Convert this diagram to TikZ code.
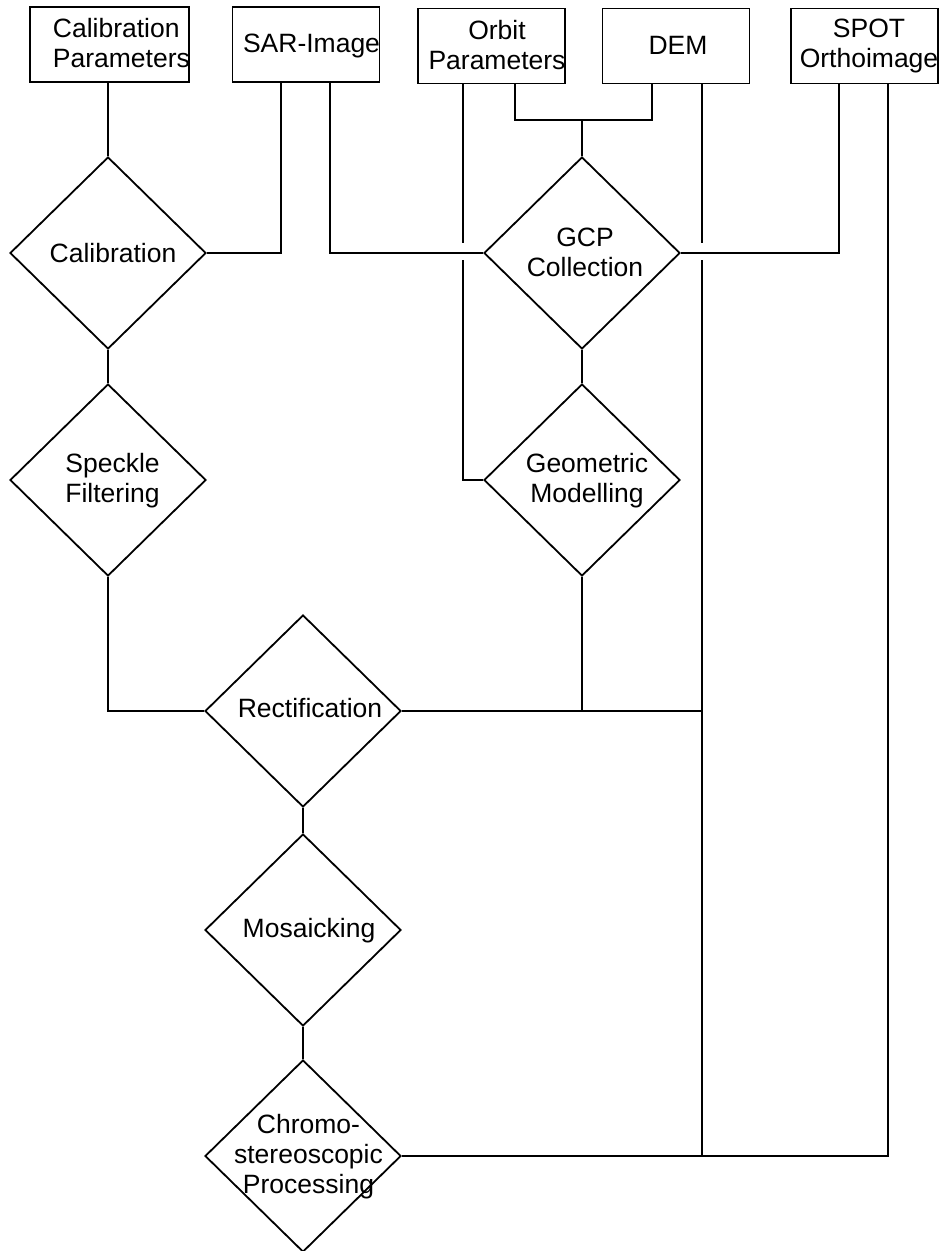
\documentclass[tikz,border=0pt]{standalone}
\usepackage{fontspec}
\setmainfont{Liberation Sans}
\usetikzlibrary{shapes.geometric}
\newcommand\lblines[1]{\begin{tabular}[t]{@{}c@{}}#1\end{tabular}}
\newcommand\lblinesl[1]{\begin{tabular}[t]{@{}l@{}}#1\end{tabular}}
\tikzset{
  every path/.style={line width=1.8pt},
  box/.style={draw, rectangle, inner sep=0pt, minimum width=147pt, minimum height=75pt, line width=1.8pt},
  dia/.style={draw, diamond, inner sep=0pt, minimum width=196pt, minimum height=192pt, line width=1.8pt},
  txt/.style={inner sep=0pt, anchor=base, font=\fontsize{26.5}{30}\selectfont},
  link/.style={draw=black, line width=1.8pt}
}
\begin{document}
\begin{tikzpicture}[x=1pt,y=-1pt]
\useasboundingbox (0,0) rectangle (945,1251);
% input boxes
\node[box, minimum width=159pt] (calp) at (109.5,44.5) {};
\node[box] (sar) at (306,44.5) {};
\node[box] (orbit) at (491.5,46) {};
\node[box] (dem) at (676,46) {};
\node[box] (spot) at (864.5,46) {};
\node[txt, anchor=base west] (calpT) at (52,37) {\lblinesl{Calibration\\Parameters}};
\node[txt] (sarT) at (311.5,52) {SAR-Image};
\node[txt] (orbitT) at (497,39) {\lblines{Orbit\\Parameters}};
\node[txt] (demT) at (678,54) {DEM};
\node[txt] (spotT) at (869,37) {\lblines{SPOT\\Orthoimage}};
% process diamonds
\node[dia] (cal) at (108,253) {};
\node[dia] (spk) at (108,480) {};
\node[dia] (gcp) at (582,253) {};
\node[dia] (geo) at (582,480) {};
\node[dia] (rect) at (303,711) {};
\node[dia] (mos) at (303,930) {};
\node[dia] (chr) at (303,1156) {};
\node[txt] (calT) at (113,262) {Calibration};
\node[txt] (spkT) at (112.5,472) {\lblines{Speckle\\Filtering}};
\node[txt] (gcpT) at (585,246) {\lblines{GCP\\Collection}};
\node[txt] (geoT) at (587,472) {\lblines{Geometric\\Modelling}};
\node[txt] (rectT) at (310,717) {Rectification};
\node[txt] (mosT) at (309,937) {Mosaicking};
\node[txt] (chrT) at (308.5,1133) {\lblines{Chromo-\\stereoscopic\\Processing}};
% connector end points on the boxes
\coordinate (sa1) at ([xshift=-25pt]sar.south);
\coordinate (sa2) at ([xshift=24pt]sar.south);
\coordinate (o1) at ([xshift=-28.5pt]orbit.south);
\coordinate (o2) at ([xshift=23.5pt]orbit.south);
\coordinate (d1) at ([xshift=-24pt]dem.south);
\coordinate (d2) at ([xshift=26pt]dem.south);
\coordinate (s1) at ([xshift=-25.5pt]spot.south);
\coordinate (s2) at ([xshift=23.5pt]spot.south);
\coordinate (mj) at ([yshift=36pt]gcp.north);
% connectors
\draw[link] (calp.south -| cal.north) -- (cal.north);
\draw[link] (sa1) |- (cal.east);
\draw[link] (sa2) |- (gcp.west);
\draw[link, shorten >=10pt] (o1) -- (o1 |- gcp.west);
\draw[link, shorten <=7pt] (o1 |- gcp.west) |- (geo.west);
\draw[link] (o2) |- (mj) -| (d1);
\draw[link] (mj) -- (gcp.north);
\draw[link, shorten >=10pt] (d2) -- (d2 |- gcp.east);
\draw[link, shorten <=7pt] (d2 |- gcp.east) -- (d2 |- chr.east);
\draw[link] (s1) |- (gcp.east);
\draw[link] (s2) |- (chr.east);
\draw[link] (cal.south) -- (spk.north);
\draw[link] (spk.south) |- (rect.west);
\draw[link] (gcp.south) -- (geo.north);
\draw[link] (geo.south) -- (geo.south |- rect.east);
\draw[link] (rect.east) -- (d2 |- rect.east);
\draw[link] (rect.south) -- (mos.north);
\draw[link] (mos.south) -- (chr.north);
\end{tikzpicture}
\end{document}
